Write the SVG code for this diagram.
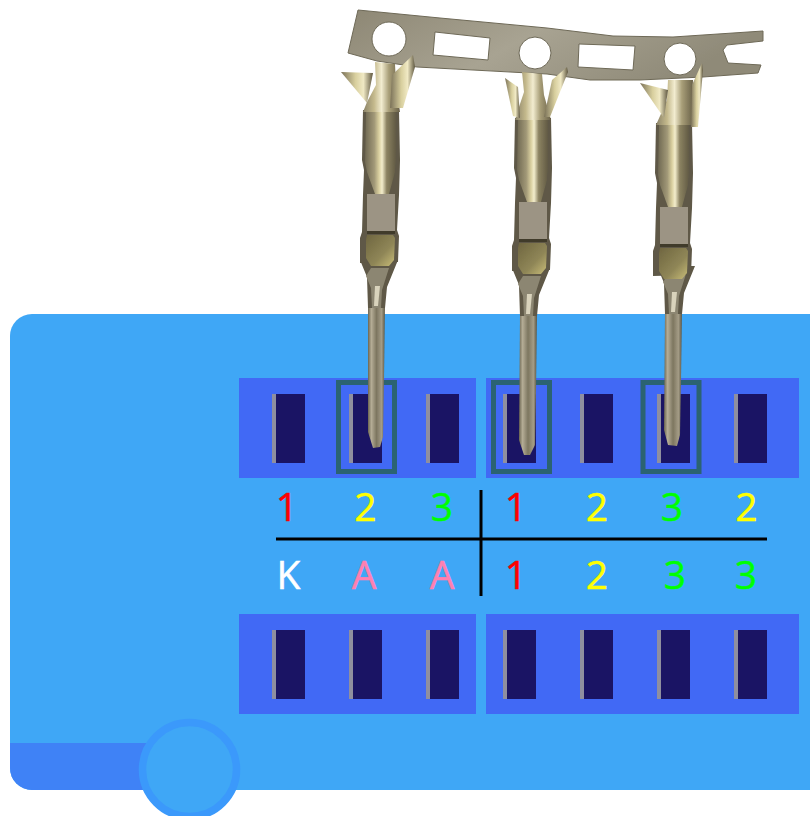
<svg xmlns="http://www.w3.org/2000/svg" width="810" height="816" viewBox="0 0 810 816">
<defs>
<style>
.lb{font-family:"Open Sans","Noto Sans",sans-serif;font-size:39px;text-anchor:middle;stroke-width:.5}
.r{fill:#ff0000;stroke:#ff0000}
.y{fill:#ffff00;stroke:#ffff00}
.g{fill:#00ff00;stroke:#00ff00}
.p{fill:#ff80b0;stroke:#ff80b0}
.w{fill:#ffffff;stroke:#ffffff}
.bk{fill:#4169f5}
.sl{fill:#1a1464}
.ed{fill:#8f8f9f}
.fr{fill:none;stroke:#2b6372;stroke-width:5}
.ln{stroke:#000;stroke-width:3;fill:none}
.dk{fill:#5e5846}
.wing{fill:url(#gw)}
.neck{fill:url(#gn)}
.shaft{fill:url(#gs)}
</style>
<linearGradient id="gw" x1="0" x2="1" y1="0" y2="0"><stop offset="0" stop-color="#7a7158"/><stop offset=".45" stop-color="#d8cf9e"/><stop offset=".7" stop-color="#f0e9c4"/><stop offset="1" stop-color="#5f5740"/></linearGradient>
<linearGradient id="gn" x1="0" x2="1" y1="0" y2="0"><stop offset="0" stop-color="#8a8268"/><stop offset=".3" stop-color="#c4b98c"/><stop offset=".5" stop-color="#f2ecd0"/><stop offset=".7" stop-color="#a89e78"/><stop offset="1" stop-color="#6a6149"/></linearGradient>
<linearGradient id="gs" x1="0" x2="1" y1="0" y2="0"><stop offset="0" stop-color="#6b6550"/><stop offset=".2" stop-color="#b5ad96"/><stop offset=".5" stop-color="#7d7660"/><stop offset=".8" stop-color="#a49c86"/><stop offset="1" stop-color="#5a5441"/></linearGradient>
<linearGradient id="gb" x1="0" x2="1" y1="0" y2="0"><stop offset="0" stop-color="#6f6852"/><stop offset=".3" stop-color="#a19877"/><stop offset=".45" stop-color="#d9cf9f"/><stop offset=".55" stop-color="#f3edcc"/><stop offset=".7" stop-color="#8c8362"/><stop offset="1" stop-color="#615a44"/></linearGradient>
<linearGradient id="gw2" x1="0" x2="1" y1="0" y2="1"><stop offset="0" stop-color="#6f6640"/><stop offset=".6" stop-color="#8f8657"/><stop offset="1" stop-color="#c9bd78"/></linearGradient>
<linearGradient id="gt" x1="0" x2="1" y1="0" y2=".3"><stop offset="0" stop-color="#8d8774"/><stop offset=".5" stop-color="#a8a392"/><stop offset="1" stop-color="#8f8a78"/></linearGradient>
<filter id="soft" x="-5%" y="-5%" width="110%" height="110%"><feGaussianBlur stdDeviation=".5"/></filter>
<g id="s"><rect class="sl" x="0" y="0" width="33" height="69"/><rect class="ed" x="0" y="0" width="4" height="69"/></g>
<g id="taper">
<path class="dk" d="M-21 150 L-14 167 L-13 198 L4 198 L6 177 L17 150 Z"/>
<path fill="#8c8672" d="M-10 158 H8 L1 180 L0 198 H-9 L-10 178 L-15 166 Z"/>
<path fill="#d9d3bc" d="M-6 176 H-1 L-3 196 H-7 Z"/>
</g>
<g id="barrel">
<path class="dk" d="M-18 0 L-19 50 L-17 60 L-18 85 L-19 122 L-21 128 L-21 153 L17 152 L18 126 L16 120 L18 85 L19 50 L18 0 Z"/>
<path fill="url(#gb)" d="M-15 2 L-16 52 L-14 62 L-6 84 H8 L14 62 L15 50 L15 2 Z"/>
<path fill="#9c9484" d="M-14 84 H14 V122 H-14 Z"/>
<path fill="#3f3a2c" d="M-14 121 H14 V124 H-14 Z"/>
<path fill="url(#gw2)" d="M-14 125 H12 L14 128 L13 150 L8 156 H-10 L-15 148 V130 Z"/>
</g>
</defs>
<g id="body">
<path d="M32 314 H810 V790 H32 A22 22 0 0 1 10 768 V336 A22 22 0 0 1 32 314 Z" fill="#3fa7f6"/>
<path d="M10 743 H190 V790 H32 A22 22 0 0 1 10 768 Z" fill="#3f82f6"/>
<circle cx="189.500" cy="769.500" r="47" fill="#3fa7f6" stroke="#3b99fb" stroke-width="7.500"/>
</g>
<g id="top-row">
<rect class="bk" x="239" y="378" width="237" height="100"/>
<rect class="bk" x="486" y="378" width="313" height="100"/>
<use href="#s" x="272" y="394"/><use href="#s" x="349" y="394"/><use href="#s" x="426" y="394"/>
<use href="#s" x="503" y="394"/><use href="#s" x="580" y="394"/><use href="#s" x="657" y="394"/><use href="#s" x="734" y="394"/>
</g>
<g id="bottom-row">
<rect class="bk" x="239" y="614" width="237" height="100"/>
<rect class="bk" x="486" y="614" width="313" height="100"/>
<use href="#s" x="272" y="630"/><use href="#s" x="349" y="630"/><use href="#s" x="426" y="630"/>
<use href="#s" x="503" y="630"/><use href="#s" x="580" y="630"/><use href="#s" x="657" y="630"/><use href="#s" x="734" y="630"/>
</g>
<g id="connectors">
<path class="ln" d="M276 539 H767"/>
<path class="ln" d="M481 490 V596"/>
</g>
<g id="labels">
<text class="lb r" x="287" y="521">1</text>
<text class="lb y" x="365.500" y="521">2</text>
<text class="lb g" x="442" y="521">3</text>
<text class="lb r" x="516" y="521">1</text>
<text class="lb y" x="597" y="521">2</text>
<text class="lb g" x="672" y="521">3</text>
<text class="lb y" x="746.500" y="521">2</text>
<text class="lb w" x="288.500" y="589">K</text>
<text class="lb p" x="364" y="589">A</text>
<text class="lb p" x="442" y="589">A</text>
<text class="lb r" x="516" y="589">1</text>
<text class="lb y" x="597" y="589">2</text>
<text class="lb g" x="675" y="589">3</text>
<text class="lb g" x="746" y="589">3</text>
</g>
<g id="frames">
<rect class="fr" x="338.500" y="382.500" width="56" height="89"/>
<rect class="fr" x="493.500" y="382.500" width="56" height="89"/>
<rect class="fr" x="643" y="382.500" width="56" height="89"/>
</g>
<g id="terminals" filter="url(#soft)">
<path id="strip" fill-rule="evenodd" fill="url(#gt)" stroke="#6e6957" stroke-width="1" d="M358 10 L440 18 L547 28 L613 36 L673 37 L763 31 L763 41 L727 45 L723 50 L728 63 L761 65 L758 73 L703 77 L640 80 L590 80 L547 74 L417 67 L377 61 L348 53 Z
M406 39 a17 17 0 1 0 -34 0 a17 17 0 1 0 34 0 Z
M435 32 L490 38 L488 60 L433 55 Z
M551 53 a16 16 0 1 0 -32 0 a16 16 0 1 0 32 0 Z
M579 44 L635 46 L633 70 L578 67 Z
M696 59 a16 16 0 1 0 -32 0 a16 16 0 1 0 32 0 Z"/>
<g id="pin1">
<path class="shaft" d="M368 303 L385 303 L384 380 L383 437 L380 447 L373 448 L368 432 Z"/>
<use href="#taper" x="381" y="110"/>
<use href="#barrel" x="381" y="110"/>
<path class="neck" d="M375 62 L395 64 L396 85 L400 112 L363 112 L367 102 L376 85 Z"/>
<path class="wing" d="M341 72 L373 73 L367 103 Z"/>
<path class="wing" d="M413 55 L415 67 L403 108 L390 108 L392 75 Z"/>
</g>
<g id="pin2">
<path class="shaft" d="M520 314 L537 314 L536 390 L535 445 L530 455 L524 455 L519 440 Z"/>
<use href="#taper" x="533" y="118"/>
<use href="#barrel" x="533" y="118"/>
<path class="neck" d="M522 72 L542 74 L544 95 L551 120 L515 120 L518 110 L524 92 Z"/>
<path class="wing" d="M505 78 L518 87 L520 118 L513 116 Z"/>
<path class="wing" d="M567 67 L568 72 L550 117 L544 117 L552 80 Z"/>
</g>
<g id="pin3">
<path class="shaft" d="M665 310 L682 310 L681 380 L680 435 L677 446 L668 445 L664 430 Z"/>
<use href="#taper" x="678" y="116"/>
<use href="#barrel" x="674" y="123"/>
<path class="neck" d="M668 80 L693 80 L692 105 L692 125 L656 125 L660 116 L667 100 Z"/>
<path class="wing" d="M640 83 L668 90 L664 118 Z"/>
<path class="wing" d="M702 63 L703 70 L698 127 L691 127 L692 85 Z"/>
</g>
</g>
</svg>
